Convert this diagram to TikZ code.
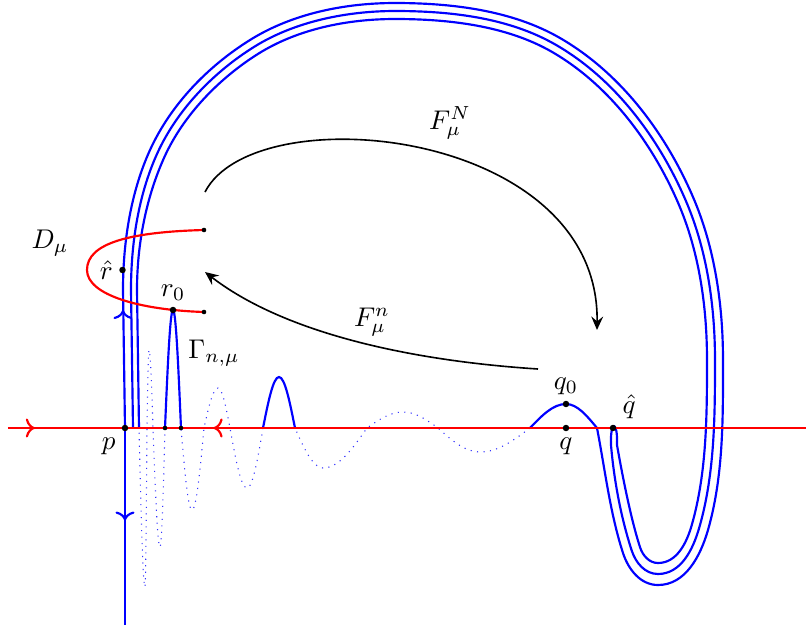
\documentclass[tikz,border=0pt]{standalone}
\usepackage{amsmath}
\usepackage{amssymb}
\usepackage{xcolor}
\usepackage{tikz}
\usetikzlibrary{arrows.meta, decorations.markings}

\begin{document}
\begin{tikzpicture}[x=0.013cm, y=-0.013cm,
    manifold/.style={thick, blue},
    ghost/.style={blue!80, dotted},
    stable/.style={thick, red},
    flow/.style={semithick, -{Stealth[length=5pt, width=4.4pt, inset=1.8pt]}},
    midarrow/.style={postaction={decorate},
      decoration={markings, mark=at position #1 with {\arrow{To}}}}]
  \useasboundingbox (0,0) rectangle (806,631);

  % Points
  \coordinate (p) at (125,428);
  \coordinate (pb) at (125,625);
  \coordinate (sl) at (8,428);
  \coordinate (sr) at (806,428);
  \coordinate (q) at (566,428);
  \coordinate (q0) at (566,404);
  \coordinate (qh) at (613,428);
  \coordinate (r0) at (173,310);
  \coordinate (rh) at (122.5,270);
  \coordinate (D1) at (204,230);
  \coordinate (D2) at (204,312);
  \coordinate (a1) at (165,428);
  \coordinate (a2) at (181,428);
  \coordinate (b1) at (263,428);
  \coordinate (b2) at (295,428);
  \coordinate (c1) at (530,428);
  \coordinate (c2) at (597,428);

  % Outer branch of the unstable manifold
  \draw[manifold] (p) -- (123,290)
    .. controls (123,243) and (130.5,192.8) .. (150,150)
    .. controls (170.8,104.5) and (207.6,66.5) .. (250,40)
    .. controls (292.4,13.5) and (345,3) .. (395,3)
    .. controls (451,3) and (511.5,10) .. (560,38)
    .. controls (620.6,73) and (665.3,132.7) .. (693,197)
    .. controls (714.8,247.5) and (723,305) .. (723,360)
    .. controls (723,417) and (723.7,475.2) .. (708,530)
    .. controls (700.4,556.3) and (685.4,585) .. (658,585)
    .. controls (640.5,585) and (628.4,569.6) .. (623,553)
    .. controls (610,513) and (605,469.2) .. (c2)
    sin (q0) cos (c1);
  \path[manifold, midarrow=0.5] (123,330) -- (123,290);
  \draw[manifold, midarrow=0.47] (p) -- (pb);

  % Folded branch through qh
  \draw[manifold] (133,428) -- (131,290)
    .. controls (131,244) and (138.2,195.2) .. (157.3,153.3)
    .. controls (177.2,109.6) and (213.5,72.2) .. (254.2,46.8)
    .. controls (294.9,21.4) and (347,11) .. (395,11)
    .. controls (450,11) and (508.4,17.4) .. (556,44.9)
    .. controls (614.9,78.9) and (658.7,137.8) .. (685.6,200.2)
    .. controls (707,249.8) and (715,306) .. (715,360)
    .. controls (715,416) and (714.8,473.7) .. (699.3,527.5)
    .. controls (693,549.6) and (681,574) .. (658,574)
    .. controls (644.9,574) and (635.6,562.7) .. (631.6,550.2)
    .. controls (620.8,516.9) and (614,479.9) .. (611,445)
    .. controls (610,420) and (618,420) .. (617,445)
    .. controls (622.2,474.5) and (630.8,518.9) .. (640.1,547.4)
    .. controls (642.8,555.7) and (649.3,563) .. (658,563)
    .. controls (676.7,563) and (686.5,543.3) .. (691.7,525.3)
    .. controls (706.9,472.4) and (707,415) .. (707,360)
    .. controls (707,307) and (699.3,252) .. (678.3,203.3)
    .. controls (652.2,142.7) and (609.2,84.9) .. (552,51.9)
    .. controls (506.1,25.4) and (448,19) .. (395,19)
    .. controls (348,19) and (298.4,28.7) .. (258.5,53.6)
    .. controls (219.5,78) and (183.7,114.7) .. (164.6,156.6)
    .. controls (145.9,197.6) and (137,245) .. (137,290)
    -- (139,428);

  % Wiggles accumulating at p
  \draw[ghost] (c1) sin (480,452) cos (438,428) sin (403,412) cos (367,428)
    sin (323,468) cos (b2);
  \draw[manifold] (b2) sin (279,377) cos (b1);
  \draw[ghost] (b1) sin (247,488) cos (230,428) sin (218,388) cos (204,428)
    sin (192,510) cos (a2);
  \draw[manifold] (a2) sin (r0) cos (a1);
  \draw[ghost] (a1) sin (160,547) cos (153,428) sin (149,350) cos (147,428)
    sin (145,587) cos (139,428);

  % Stable manifold
  \draw[stable, midarrow=0.23] (sl) -- (p);
  \draw[stable, midarrow=0.87] (sr) -- (p);

  % Region D
  \draw[stable] (D1) .. controls (130,232) and (87,243) .. (87,270)
    .. controls (87,295) and (140,310) .. (D2);

  % Maps
  \coordinate (FN1) at (205,192);
  \coordinate (FN2) at (597,330);
  \coordinate (Fn1) at (538,369);
  \coordinate (Fn2) at (205,272);
  \draw[flow] (FN1) .. controls (255,95) and (600,128) .. (FN2);
  \draw[flow] (Fn1) .. controls (400,360) and (280,330) .. (Fn2);

  % Dots
  \foreach \pt in {p,q,q0,qh,r0,rh} \fill (\pt) circle (1.2pt);
  \foreach \pt in {D1,D2,a1,a2} \fill (\pt) circle (0.85pt);

  % Labels
  \node (plab) at (p) [below left] {$p$};
  \node (qlab) at (q) [below] {$q$};
  \node (q0lab) at (q0) [above] {$q_0$};
  \node (qhlab) at (qh) [above right] {$\hat q$};
  \node (r0lab) at (r0) [above] {$r_0$};
  \node (rhlab) at (rh) [left] {$\hat r$};
  \node (Dlab) at (50,243) {$D_\mu$};
  \node (Glab) at (214,353) {$\Gamma_{n,\mu}$};
  \node (FNlab) at (450,123) {$F_\mu^N$};
  \node (Fnlab) at (372,322) {$F_\mu^n$};
\end{tikzpicture}
\end{document}
